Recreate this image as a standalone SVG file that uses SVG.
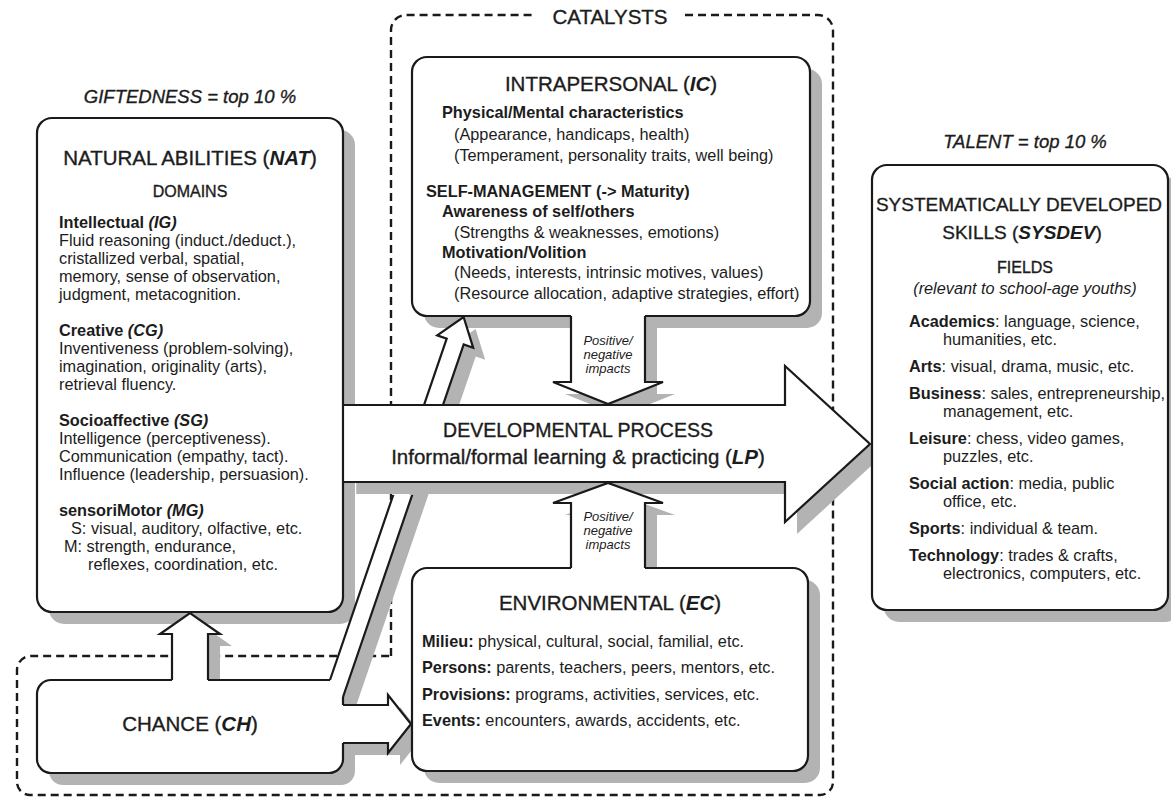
<svg xmlns="http://www.w3.org/2000/svg" width="1171" height="798" viewBox="0 0 1171 798">
  <style>
    .box{fill:#fff;stroke:#1a1a1a;stroke-width:2.2;stroke-linejoin:round}
    .fill{fill:#fff;stroke:none}
    .line{fill:none;stroke:#1a1a1a;stroke-width:2.2;stroke-linejoin:miter;stroke-linecap:butt}
    .dash{fill:none;stroke:#1a1a1a;stroke-width:2.4;stroke-dasharray:8 5}
    text{font-family:"Liberation Sans",Arial,sans-serif;fill:#1c1c1c}
    .title{font-size:20.5px;text-anchor:middle;stroke:#1c1c1c;stroke-width:0.35}
    .sub{font-size:16px;text-anchor:middle;stroke:#1c1c1c;stroke-width:0.35}
    .body{font-size:16.3px}
    .pct{font-size:18.5px;font-style:italic;text-anchor:middle;stroke:#1c1c1c;stroke-width:0.35}
    .imp{font-size:13px;font-style:italic;text-anchor:middle}
    .b{font-weight:bold}
    .i{font-style:italic}
    .bi{font-weight:bold;font-style:italic;stroke-width:0}
  </style>
  <defs>
    <rect id="nat-box" x="37" y="118" width="306" height="494" rx="15"/>
    <rect id="ic-box" x="412" y="57" width="398" height="259" rx="15"/>
    <rect id="ec-box" x="412" y="568" width="396" height="203" rx="15"/>
    <rect id="ch-box" x="37" y="680" width="306" height="93" rx="14"/>
    <rect id="sd-box" x="872" y="165" width="296" height="445" rx="15"/>
    <path id="a-ch-nat" d="M172,683 V634 H160 L190,613 L220,634 H208 V683 Z"/>
    <path id="a-ch-ic" d="M330,680 L446.7,338.7 L437.2,335.4 L463.6,317 L473.2,347.8 L463.7,344.5 L343,697 L328,697 L328,682 L330,682 Z"/>
    <path id="a-ch-ec" d="M340,705 H388 V695 L411,724 L388,753 V743 H340 Z"/>
    <path id="a-ic-dp" d="M571,313 V382 H553 L608,404 L663,382 H645 V313 Z"/>
    <path id="a-ec-dp" d="M571,571 V503 H553 L608,483 L663,503 H645 V571 Z"/>
    <path id="dp-shape" d="M344.2,405 H785 V366 L870,444 L785,522 V482 H344.2 Z"/>
    <clipPath id="clip-under-dp">
      <rect x="0" y="0" width="1171" height="482.5"/>
      <rect x="0" y="495" width="1171" height="303"/>
    </clipPath>
  </defs>

  <rect width="1171" height="798" fill="#fff"/>

  <!-- catalysts frame -->
  <g id="catalysts">
    <path class="dash" d="M391,656 V30 A15 15 0 0 1 406,15 H536"/>
    <path class="dash" d="M685,15 H818 A15 15 0 0 1 833,30 V782 A13 13 0 0 1 820,795 H30 A13 13 0 0 1 17,782 V670 A14 14 0 0 1 31,656 H391"/>
    <text x="610" y="24" style="font-size:20.5px;text-anchor:middle;stroke:#1c1c1c;stroke-width:0.35">CATALYSTS</text>
  </g>

  <!-- drop shadows -->
  <g id="shadows" fill="#b3b3b3" transform="translate(12,12)">
    <use href="#nat-box"/>
    <use href="#ic-box"/>
    <use href="#ec-box"/>
    <use href="#ch-box"/>
    <use href="#sd-box"/>
    <use href="#a-ch-nat"/>
    <use href="#a-ch-ic"/>
    <use href="#a-ch-ec"/>
    <use href="#a-ic-dp"/>
    <use href="#a-ec-dp"/>
    <use href="#dp-shape"/>
  </g>

  <g id="nat">
    <text class="pct" x="190" y="103">GIFTEDNESS = top 10 %</text>
    <use href="#nat-box" class="box"/>
    <text class="title" x="190" y="165">NATURAL ABILITIES (<tspan class="bi">NAT</tspan>)</text>
    <text class="sub" x="190" y="197">DOMAINS</text>
    <text class="body b" x="59" y="228">Intellectual <tspan class="i">(IG)</tspan></text>
    <text class="body" x="59" y="246">Fluid reasoning (induct./deduct.),</text>
    <text class="body" x="59" y="264">cristallized verbal, spatial,</text>
    <text class="body" x="59" y="282">memory, sense of observation,</text>
    <text class="body" x="59" y="300">judgment, metacognition.</text>
    <text class="body b" x="59" y="336">Creative <tspan class="i">(CG)</tspan></text>
    <text class="body" x="59" y="354">Inventiveness (problem-solving),</text>
    <text class="body" x="59" y="372">imagination, originality (arts),</text>
    <text class="body" x="59" y="390">retrieval fluency.</text>
    <text class="body b" x="59" y="426">Socioaffective <tspan class="i">(SG)</tspan></text>
    <text class="body" x="59" y="444">Intelligence (perceptiveness).</text>
    <text class="body" x="59" y="462">Communication (empathy, tact).</text>
    <text class="body" x="59" y="480">Influence (leadership, persuasion).</text>
    <text class="body b" x="59" y="516">sensoriMotor <tspan class="i">(MG)</tspan></text>
    <text class="body" x="71" y="534">S: visual, auditory, olfactive, etc.</text>
    <text class="body" x="64" y="552">M: strength, endurance,</text>
    <text class="body" x="88" y="570">reflexes, coordination, etc.</text>
  </g>

  <g id="ic">
    <use href="#ic-box" class="box"/>
    <text class="title" x="611" y="91">INTRAPERSONAL (<tspan class="bi">IC</tspan>)</text>
    <text class="body b" x="442" y="118">Physical/Mental characteristics</text>
    <text class="body" x="454" y="140">(Appearance, handicaps, health)</text>
    <text class="body" x="454" y="161">(Temperament, personality traits, well being)</text>
    <text class="body b" x="426" y="197">SELF-MANAGEMENT (-&gt; Maturity)</text>
    <text class="body b" x="442" y="217">Awareness of self/others</text>
    <text class="body" x="454" y="238">(Strengths &amp; weaknesses, emotions)</text>
    <text class="body b" x="442" y="258">Motivation/Volition</text>
    <text class="body" x="454" y="278">(Needs, interests, intrinsic motives, values)</text>
    <text class="body" x="454" y="299">(Resource allocation, adaptive strategies, effort)</text>
  </g>

  <g id="ec">
    <use href="#ec-box" class="box"/>
    <text class="title" x="610" y="610">ENVIRONMENTAL (<tspan class="bi">EC</tspan>)</text>
    <text class="body" x="422" y="647"><tspan class="b">Milieu:</tspan> physical, cultural, social, familial, etc.</text>
    <text class="body" x="422" y="673"><tspan class="b">Persons:</tspan> parents, teachers, peers, mentors, etc.</text>
    <text class="body" x="422" y="700"><tspan class="b">Provisions:</tspan> programs, activities, services, etc.</text>
    <text class="body" x="422" y="726"><tspan class="b">Events:</tspan> encounters, awards, accidents, etc.</text>
  </g>

  <g id="ch">
    <use href="#ch-box" class="box"/>
    <text class="title" x="190" y="731">CHANCE (<tspan class="bi">CH</tspan>)</text>
  </g>

  <g id="sysdev">
    <text class="pct" x="1025" y="148">TALENT = top 10 %</text>
    <use href="#sd-box" class="box"/>
    <text class="title" x="1019" y="211" style="font-size:19px">SYSTEMATICALLY DEVELOPED</text>
    <text class="title" x="1022" y="239" style="font-size:19px">SKILLS (<tspan class="bi">SYSDEV</tspan>)</text>
    <text class="sub" x="1025" y="273">FIELDS</text>
    <text class="body i" x="1025" y="294" style="text-anchor:middle">(relevant to school-age youths)</text>
    <text class="body" x="909" y="327"><tspan class="b">Academics</tspan>: language, science,</text>
    <text class="body" x="943" y="345">humanities, etc.</text>
    <text class="body" x="909" y="372"><tspan class="b">Arts</tspan>: visual, drama, music, etc.</text>
    <text class="body" x="909" y="399"><tspan class="b">Business</tspan>: sales, entrepreneurship,</text>
    <text class="body" x="943" y="417">management, etc.</text>
    <text class="body" x="909" y="444"><tspan class="b">Leisure</tspan>: chess, video games,</text>
    <text class="body" x="943" y="462">puzzles, etc.</text>
    <text class="body" x="909" y="489"><tspan class="b">Social action</tspan>: media, public</text>
    <text class="body" x="943" y="507">office, etc.</text>
    <text class="body" x="909" y="534"><tspan class="b">Sports</tspan>: individual &amp; team.</text>
    <text class="body" x="909" y="561"><tspan class="b">Technology</tspan>: trades &amp; crafts,</text>
    <text class="body" x="943" y="579">electronics, computers, etc.</text>
  </g>

  <!-- block arrows -->
  <g id="connectors">
    <g id="chance-to-nat">
      <use href="#a-ch-nat" class="fill"/>
      <path class="line" d="M172,680 V634 H160 L190,613 L220,634 H208 V680"/>
    </g>
    <g id="chance-to-ic" clip-path="url(#clip-under-dp)">
      <use href="#a-ch-ic" class="fill"/>
      <path class="line" d="M330,680 L446.7,338.7 L437.2,335.4 L463.6,317 L473.2,347.8 L463.7,344.5 L343,697"/>
    </g>
    <g id="chance-to-ec">
      <use href="#a-ch-ec" class="fill"/>
      <path class="line" d="M343,705 H388 V695 L411,724 L388,753 V743 H343"/>
    </g>
    <g id="ic-to-dp">
      <use href="#a-ic-dp" class="fill"/>
      <path class="line" d="M571,316 V382 H553 L608,404 L663,382 H645 V316"/>
      <text class="imp" x="608" y="345">Positive/</text>
      <text class="imp" x="608" y="359">negative</text>
      <text class="imp" x="608" y="373">impacts</text>
    </g>
    <g id="nat-to-sysdev">
      <use href="#dp-shape" class="fill"/>
      <path class="line" d="M344,405 H785 V366 L870,444 L785,522 V482 H344"/>
      <text class="title" x="578" y="437" style="font-size:19.5px">DEVELOPMENTAL PROCESS</text>
      <text class="title" x="578" y="464">Informal/formal learning &amp; practicing (<tspan class="bi">LP</tspan>)</text>
    </g>
    <g id="ec-to-dp">
      <use href="#a-ec-dp" class="fill"/>
      <path class="line" d="M571,568 V503 H553 L608,483 L663,503 H645 V568"/>
      <text class="imp" x="608" y="521">Positive/</text>
      <text class="imp" x="608" y="535">negative</text>
      <text class="imp" x="608" y="549">impacts</text>
    </g>
  </g>
</svg>
